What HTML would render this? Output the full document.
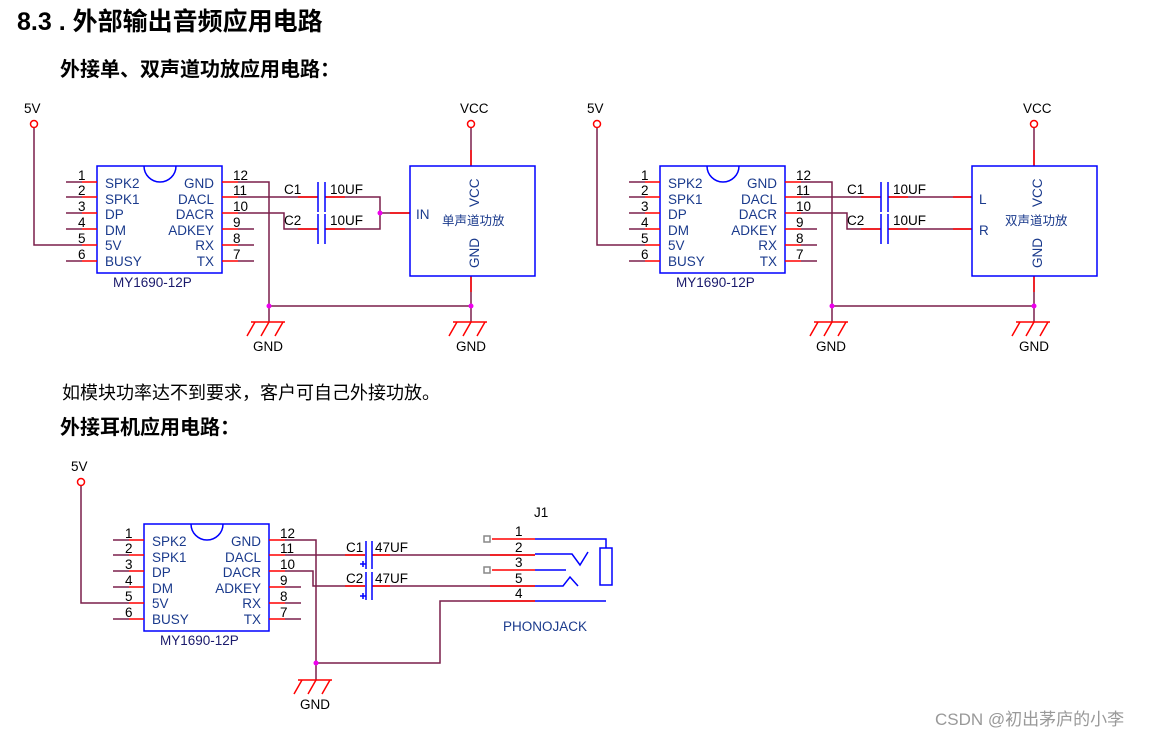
<!DOCTYPE html>
<html><head><meta charset="utf-8"><style>
html,body{margin:0;padding:0;background:#fff;}
body{width:1162px;height:734px;overflow:hidden;position:relative;font-family:"Liberation Sans","Noto Sans CJK SC",sans-serif;}
.t{position:absolute;white-space:nowrap;color:#000;}
svg text{font-family:"Liberation Sans","Noto Sans CJK SC",sans-serif;}
</style></head><body>
<div class="t" style="left:17px;top:2px;font-size:25px;font-weight:bold;">8.3 . 外部输出音频应用电路</div>
<div class="t" style="left:60px;top:53px;font-size:20px;font-weight:bold;">外接单、双声道功放应用电路：</div>
<div class="t" style="left:62px;top:379px;font-size:18px;">如模块功率达不到要求，客户可自己外接功放。</div>
<div class="t" style="left:60px;top:411px;font-size:20px;font-weight:bold;">外接耳机应用电路：</div>
<div class="t" style="left:935px;top:705px;font-size:17px;color:#999;">CSDN @初出茅庐的小李</div>
<svg width="1162" height="734" style="position:absolute;left:0;top:0" xmlns="http://www.w3.org/2000/svg">
<defs>
<g id="chip">
  <rect x="97" y="166" width="125" height="107" fill="none" stroke="#00f" stroke-width="1.5"/>
  <path d="M144,166 A16,16 0 0 0 176,166" fill="none" stroke="#00f" stroke-width="1.5"/>
  <g stroke="#7a1f4a" stroke-width="1.5">
    <line x1="66" y1="182" x2="82" y2="182"/><line x1="66" y1="197" x2="82" y2="197"/><line x1="66" y1="213" x2="82" y2="213"/>
    <line x1="66" y1="229" x2="82" y2="229"/><line x1="66" y1="261" x2="82" y2="261"/>
    <line x1="238" y1="229" x2="254" y2="229"/><line x1="238" y1="245" x2="254" y2="245"/><line x1="238" y1="261" x2="254" y2="261"/>
  </g>
  <g stroke="#f00" stroke-width="1.5">
    <line x1="82" y1="182" x2="97" y2="182"/><line x1="82" y1="197" x2="97" y2="197"/><line x1="82" y1="213" x2="97" y2="213"/>
    <line x1="82" y1="229" x2="97" y2="229"/><line x1="82" y1="245" x2="97" y2="245"/><line x1="82" y1="261" x2="97" y2="261"/>
    <line x1="222" y1="182" x2="238" y2="182"/><line x1="222" y1="197" x2="238" y2="197"/><line x1="222" y1="213" x2="238" y2="213"/>
    <line x1="222" y1="229" x2="238" y2="229"/><line x1="222" y1="245" x2="238" y2="245"/><line x1="222" y1="261" x2="238" y2="261"/>
  </g>
  <g font-size="13.5" fill="#000">
    <text x="78" y="180">1</text><text x="78" y="195">2</text><text x="78" y="211">3</text><text x="78" y="227">4</text><text x="78" y="243">5</text><text x="78" y="259">6</text>
    <text x="233" y="180">12</text><text x="233" y="195">11</text><text x="233" y="211">10</text><text x="233" y="227">9</text><text x="233" y="243">8</text><text x="233" y="259">7</text>
  </g>
  <g font-size="13.5" fill="#1a3a8c">
    <text x="105" y="188">SPK2</text><text x="105" y="204">SPK1</text><text x="105" y="219">DP</text><text x="105" y="235">DM</text><text x="105" y="250">5V</text><text x="105" y="266">BUSY</text>
    <text x="214" y="188" text-anchor="end">GND</text><text x="214" y="204" text-anchor="end">DACL</text><text x="214" y="219" text-anchor="end">DACR</text><text x="214" y="235" text-anchor="end">ADKEY</text><text x="214" y="250" text-anchor="end">RX</text><text x="214" y="266" text-anchor="end">TX</text>
    <text x="113" y="287" fill="#1a1a6c">MY1690-12P</text>
  </g>
</g>
<g id="gnd">
  <line x1="-18" y1="0" x2="16" y2="0" stroke="#f00" stroke-width="1.5"/>
  <line x1="-14" y1="0" x2="-22" y2="14" stroke="#f00" stroke-width="1.5"/>
  <line x1="0" y1="0" x2="-8" y2="14" stroke="#f00" stroke-width="1.5"/>
  <line x1="14" y1="0" x2="6" y2="14" stroke="#f00" stroke-width="1.5"/>
</g>
</defs>

<!-- circuit 1 -->
<use href="#chip"/>
<g fill="none" stroke="#7a1f4a" stroke-width="1.5">
  <polyline points="34,128 34,245 82,245"/>
  <polyline points="238,182 269,182 269,322"/>
  <line x1="269" y1="306" x2="471" y2="306"/>
  <polyline points="238,197 318,197"/>
  <polyline points="238,213 284,213 284,229 318,229"/>
  <polyline points="325,197 380,197 380,229 325,229"/>
  <line x1="380" y1="213" x2="410" y2="213"/>
  <line x1="471" y1="128" x2="471" y2="166"/>
  <line x1="471" y1="276" x2="471" y2="322"/>
</g>
<g stroke="#f00" stroke-width="1.5"><line x1="298" y1="197" x2="318" y2="197"/><line x1="298" y1="229" x2="318" y2="229"/><line x1="325" y1="197" x2="345" y2="197"/><line x1="325" y1="229" x2="345" y2="229"/><line x1="390" y1="213" x2="410" y2="213"/><line x1="471" y1="150" x2="471" y2="166"/><line x1="471" y1="276" x2="471" y2="292"/></g>
<g stroke="#00f" stroke-width="1.5"><line x1="318" y1="182" x2="318" y2="212"/><line x1="325" y1="182" x2="325" y2="212"/><line x1="318" y1="214" x2="318" y2="244"/><line x1="325" y1="214" x2="325" y2="244"/></g>
<circle cx="34" cy="124" r="3.5" fill="none" stroke="#f00" stroke-width="1.5"/>
<circle cx="471" cy="124" r="3.5" fill="none" stroke="#f00" stroke-width="1.5"/>
<circle cx="269" cy="306" r="2.5" fill="#e0e"/><circle cx="471" cy="306" r="2.5" fill="#e0e"/><circle cx="380" cy="213" r="2.5" fill="#e0e"/>
<use href="#gnd" x="269" y="322"/><use href="#gnd" x="471" y="322"/>
<rect x="410" y="166" width="125" height="110" fill="none" stroke="#00f" stroke-width="1.5"/>
<g font-size="13.5" fill="#000">
  <text x="24" y="113">5V</text><text x="460" y="113">VCC</text>
  <text x="284" y="194">C1</text><text x="284" y="225">C2</text><text x="330" y="194">10UF</text><text x="330" y="225">10UF</text>
  <text x="253" y="351">GND</text><text x="456" y="351">GND</text>
</g>
<g font-size="13.5" fill="#1a3a8c">
  <text x="416" y="219">IN</text>
  <text x="479" y="207" transform="rotate(-90 479 207)">VCC</text>
  <text x="479" y="268" transform="rotate(-90 479 268)">GND</text>
  <text x="442" y="225" font-size="12.5">单声道功放</text>
</g>

<!-- circuit 2 -->
<g transform="translate(563,0)">
<use href="#chip"/>
<g fill="none" stroke="#7a1f4a" stroke-width="1.5">
  <polyline points="34,128 34,245 82,245"/>
  <polyline points="238,182 269,182 269,322"/>
  <line x1="269" y1="306" x2="471" y2="306"/>
  <polyline points="238,197 318,197"/>
  <polyline points="238,213 284,213 284,229 318,229"/>
  <line x1="325" y1="197" x2="409" y2="197"/>
  <line x1="325" y1="229" x2="409" y2="229"/>
  <line x1="471" y1="128" x2="471" y2="166"/>
  <line x1="471" y1="276" x2="471" y2="322"/>
</g>
<g stroke="#f00" stroke-width="1.5"><line x1="298" y1="197" x2="318" y2="197"/><line x1="298" y1="229" x2="318" y2="229"/><line x1="325" y1="197" x2="345" y2="197"/><line x1="325" y1="229" x2="345" y2="229"/><line x1="390" y1="197" x2="409" y2="197"/><line x1="390" y1="229" x2="409" y2="229"/><line x1="471" y1="150" x2="471" y2="166"/><line x1="471" y1="276" x2="471" y2="292"/></g>
<g stroke="#00f" stroke-width="1.5"><line x1="318" y1="182" x2="318" y2="212"/><line x1="325" y1="182" x2="325" y2="212"/><line x1="318" y1="214" x2="318" y2="244"/><line x1="325" y1="214" x2="325" y2="244"/></g>
<circle cx="34" cy="124" r="3.5" fill="none" stroke="#f00" stroke-width="1.5"/>
<circle cx="471" cy="124" r="3.5" fill="none" stroke="#f00" stroke-width="1.5"/>
<circle cx="269" cy="306" r="2.5" fill="#e0e"/><circle cx="471" cy="306" r="2.5" fill="#e0e"/>
<use href="#gnd" x="269" y="322"/><use href="#gnd" x="471" y="322"/>
<rect x="409" y="166" width="125" height="110" fill="none" stroke="#00f" stroke-width="1.5"/>
<g font-size="13.5" fill="#000">
  <text x="24" y="113">5V</text><text x="460" y="113">VCC</text>
  <text x="284" y="194">C1</text><text x="284" y="225">C2</text><text x="330" y="194">10UF</text><text x="330" y="225">10UF</text>
  <text x="253" y="351">GND</text><text x="456" y="351">GND</text>
</g>
<g font-size="13.5" fill="#1a3a8c">
  <text x="416" y="204">L</text><text x="416" y="235">R</text>
  <text x="479" y="207" transform="rotate(-90 479 207)">VCC</text>
  <text x="479" y="268" transform="rotate(-90 479 268)">GND</text>
  <text x="442" y="225" font-size="12.5">双声道功放</text>
</g>
</g>

<!-- circuit 3 -->
<g transform="translate(47,358)"><use href="#chip"/></g>
<g fill="none" stroke="#7a1f4a" stroke-width="1.5">
  <polyline points="81,486 81,603 129,603"/>
  <polyline points="285,540 316,540 316,680"/>
  <polyline points="316,663 440,663 440,601 535,601"/>
  <line x1="285" y1="555" x2="365" y2="555"/>
  <polyline points="285,571 313,571 313,586 365,586"/>
  <line x1="372" y1="555" x2="535" y2="555"/>
  <line x1="372" y1="586" x2="535" y2="586"/>
</g>
<g stroke="#f00" stroke-width="1.5">
  <line x1="345" y1="555" x2="365" y2="555"/><line x1="345" y1="586" x2="365" y2="586"/>
  <line x1="372" y1="555" x2="390" y2="555"/><line x1="372" y1="586" x2="390" y2="586"/>
  <line x1="492" y1="539" x2="535" y2="539"/><line x1="490" y1="555" x2="535" y2="555"/>
  <line x1="492" y1="570" x2="535" y2="570"/><line x1="490" y1="586" x2="535" y2="586"/><line x1="490" y1="601" x2="535" y2="601"/>
</g>
<g stroke="#00f" stroke-width="1.5" fill="none">
  <line x1="366" y1="541" x2="366" y2="569"/><line x1="372" y1="541" x2="372" y2="569"/>
  <line x1="366" y1="572" x2="366" y2="600"/><line x1="372" y1="572" x2="372" y2="600"/>
  <line x1="360" y1="564" x2="366" y2="564"/><line x1="363" y1="561" x2="363" y2="567"/>
  <line x1="360" y1="596" x2="366" y2="596"/><line x1="363" y1="593" x2="363" y2="599"/>
  <polyline points="535,539 606,539 606,548"/>
  <rect x="600" y="548" width="12" height="37"/>
  <polyline points="535,554 572,554 580,565 588,552"/>
  <line x1="535" y1="570" x2="566" y2="570"/>
  <polyline points="535,586 563,586 570,577 578,586"/>
  <line x1="535" y1="601" x2="606" y2="601"/>
</g>
<rect x="484" y="536" width="6" height="6" fill="none" stroke="#888" stroke-width="1.5"/>
<rect x="484" y="567" width="6" height="6" fill="none" stroke="#888" stroke-width="1.5"/>
<circle cx="81" cy="482" r="3.5" fill="none" stroke="#f00" stroke-width="1.5"/>
<circle cx="316" cy="663" r="2.5" fill="#e0e"/>
<use href="#gnd" x="316" y="680"/>
<g font-size="13.5" fill="#000">
  <text x="71" y="471">5V</text>
  <text x="346" y="552">C1</text><text x="346" y="583">C2</text><text x="375" y="552">47UF</text><text x="375" y="583">47UF</text>
  <text x="300" y="709">GND</text>
  <text x="534" y="517">J1</text>
  <text x="515" y="536">1</text><text x="515" y="552">2</text><text x="515" y="567">3</text><text x="515" y="583">5</text><text x="515" y="598">4</text>
</g>
<text x="503" y="631" font-size="13.5" fill="#1a3a8c">PHONOJACK</text>
</svg>
</body></html>
